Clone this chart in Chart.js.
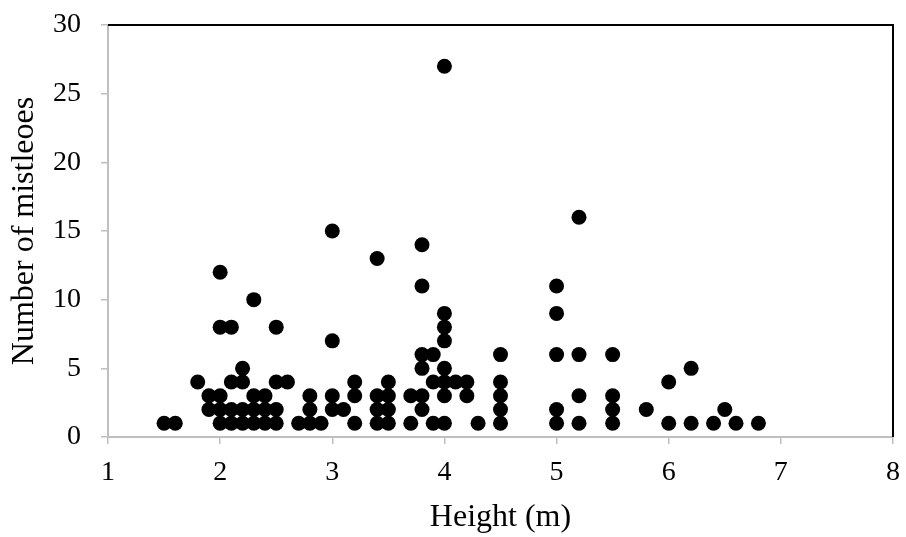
<!DOCTYPE html>
<html>
<head>
<meta charset="utf-8">
<title>Mistletoes vs height</title>
<script src="https://cdn.jsdelivr.net/npm/chart.js@4.4.1/dist/chart.umd.min.js"></script>
<style>
  body { margin: 0; background: #fff; }
  canvas { display: block; }
</style>
</head>
<body>
<canvas id="chart" width="906" height="537"></canvas>
<script>
// tree heights (m) and the mistletoe counts found on trees of that height
const heights = [1.5, 1.6, 1.8, 1.9, 2.0, 2.1, 2.2, 2.3, 2.4, 2.5, 2.6, 2.7, 2.8, 2.9, 3.0, 3.1, 3.2, 3.4, 3.5,
  3.7, 3.8, 3.9, 4.0, 4.1, 4.2, 4.3, 4.5, 5.0, 5.2, 5.5, 5.8, 6.0, 6.2, 6.4, 6.5, 6.6, 6.8];
const counts = [
  [1], [1], [4], [3, 2], [12, 8, 3, 2, 1], [8, 4, 2, 1], [5, 4, 2, 1], [10, 3, 2, 1], [3, 2, 1], [8, 4, 2, 1],
  [4], [1], [3, 2, 1], [1], [15, 7, 3, 2], [2], [4, 3, 1], [13, 3, 2, 1], [4, 3, 2, 1],
  [3, 1], [14, 11, 6, 5, 3, 2], [6, 4, 1], [27, 9, 8, 7, 5, 4, 3, 1], [4], [4, 3], [1], [6, 4, 3, 2, 1],
  [11, 9, 6, 2, 1], [16, 6, 3, 1], [6, 3, 2, 1], [2], [4, 1], [5, 1], [1], [2], [1], [1]
];
const xTicks = [1, 2, 3, 4, 5, 6, 7, 8];
const yTicks = [0, 5, 10, 15, 20, 25, 30];

const points = [];
heights.forEach((h, i) => {
  counts[i].forEach(c => points.push({ x: h, y: c }));
});

const font = "'Liberation Serif', 'Times New Roman', serif";
const axisGray = '#bfbfbf';

// black frame on the top and right of the plot area
const plotFrame = {
  id: 'plotFrame',
  afterDatasetsDraw(chart) {
    const { ctx, chartArea: a } = chart;
    ctx.save();
    ctx.strokeStyle = '#000';
    ctx.lineWidth = 2;
    ctx.beginPath();
    ctx.moveTo(a.left, a.top);
    ctx.lineTo(a.right, a.top);
    ctx.lineTo(a.right, a.bottom);
    ctx.stroke();
    ctx.restore();
  }
};

new Chart(document.getElementById('chart'), {
  type: 'scatter',
  data: {
    datasets: [{
      data: points,
      backgroundColor: '#000',
      borderWidth: 0,
      pointRadius: 7.5,
      pointHoverRadius: 7.5
    }]
  },
  options: {
    responsive: false,
    animation: false,
    layout: { autoPadding: false, padding: { left: 0, right: 13, top: 25, bottom: 0 } },
    plugins: { legend: { display: false }, tooltip: { enabled: false } },
    scales: {
      x: {
        type: 'linear',
        min: xTicks[0],
        max: xTicks[xTicks.length - 1],
        afterFit(scale) {
          scale.height = 100;
          scale.paddingLeft = 0;
          scale.paddingRight = 0;
        },
        afterBuildTicks(scale) { scale.ticks = xTicks.map(v => ({ value: v })); },
        ticks: { color: '#000', font: { family: font, size: 28 }, padding: 12, maxRotation: 0 },
        grid: { drawOnChartArea: false, tickLength: 7, color: axisGray, lineWidth: 1.5 },
        border: { color: axisGray, width: 2 },
        title: {
          display: true,
          text: 'Height (m)',
          color: '#000',
          font: { family: font, size: 32, lineHeight: 1.2 },
          padding: { top: 0, bottom: 0 }
        }
      },
      y: {
        min: yTicks[0],
        max: yTicks[yTicks.length - 1],
        afterFit(scale) {
          scale.width = 108;
          scale.paddingTop = 0;
          scale.paddingBottom = 0;
        },
        afterBuildTicks(scale) { scale.ticks = yTicks.map(v => ({ value: v })); },
        ticks: { color: '#000', font: { family: font, size: 28 }, padding: 20 },
        grid: { drawOnChartArea: false, tickLength: 7, color: axisGray, lineWidth: 1.5 },
        border: { color: axisGray, width: 2 },
        title: {
          display: true,
          text: 'Number of mistleoes',
          color: '#000',
          font: { family: font, size: 32, lineHeight: 1.2 },
          padding: { top: 5, bottom: 0 }
        }
      }
    }
  },
  plugins: [plotFrame]
});
</script>
</body>
</html>
